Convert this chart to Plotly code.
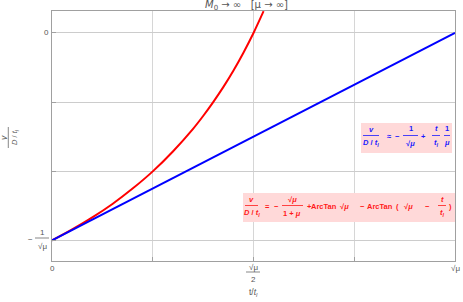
import plotly.graph_objects as go

# ---- data (normalized: t in units of sqrt(mu), v in units of 1/sqrt(mu)) ----
red_t = [0, 0.05, 0.1, 0.15, 0.2, 0.25, 0.3, 0.35, 0.375, 0.4, 0.425, 0.45, 0.475, 0.5, 0.525]
red_v = [-1, -0.947, -0.889, -0.824, -0.75, -0.667, -0.571, -0.462, -0.4, -0.333, -0.261, -0.182, -0.095, 0.0, 0.105]
blue_t = [0, 1]
blue_v = [-1, 0]
x_grid = [0.25, 0.5, 0.75]
y_grid = [0, -1/3, -2/3, -1]

W, H = 463, 302
L, R, T, B = 52, 455, 11, 261
FONT = "Liberation Sans"

def px(x):
    return (x - L) / (R - L)

def py(y):
    return (B - y) / (B - T)

fig = go.Figure()
fig.add_trace(go.Scatter(x=red_t, y=red_v, mode="lines", line=dict(color="#ff0000", width=2, shape="spline"),
                         hoverinfo="skip", showlegend=False))
fig.add_trace(go.Scatter(x=blue_t, y=blue_v, mode="lines", line=dict(color="#0000ff", width=2),
                         hoverinfo="skip", showlegend=False))

ann = []
shp = []

def txt(x, y, s, size=7.5, color="#444", bold=False, angle=0, anchor="center", family=FONT):
    if bold:
        s = "<b>" + s + "</b>"
    ann.append(dict(x=px(x), y=py(y), xref="paper", yref="paper", text=s, showarrow=False,
                    xanchor=anchor, yanchor="middle", textangle=angle, borderpad=0,
                    font=dict(family=family, size=size, color=color)))

def hbar(x0, x1, y, color, w=0.8):
    shp.append(dict(type="line", xref="paper", yref="paper", x0=px(x0), x1=px(x1), y0=py(y), y1=py(y),
                    line=dict(color=color, width=w), layer="above"))

def vbar(x, y0, y1, color, w=0.8):
    shp.append(dict(type="line", xref="paper", yref="paper", x0=px(x), x1=px(x), y0=py(y0), y1=py(y1),
                    line=dict(color=color, width=w), layer="above"))

def box(x0, x1, y0, y1):
    shp.append(dict(type="rect", xref="paper", yref="paper", x0=px(x0), x1=px(x1), y0=py(y1), y1=py(y0),
                    fillcolor="#ffd9d9", line=dict(width=0), layer="above"))

# title
txt(246, 6, "<i>M</i><sub>0</sub> → ∞   [μ → ∞]", size=10, color="#555", family="DejaVu Sans")

# y tick labels
txt(46, 33, "0", size=8, color="#555")
txt(30, 239.5, "−", size=8, color="#555")
txt(42, 232.5, "1", size=8, color="#555")
hbar(35, 49, 238, "#555", 0.7)
txt(42, 246.5, "√μ", size=8, color="#555")

# y axis title (rotated fraction)
txt(3.5, 137.5, "<i>v</i>", size=8.5, color="#555", angle=-90)
vbar(8.3, 127, 148, "#555", 0.7)
txt(14.5, 137.5, "<i>D</i> / <i>t</i><sub><i>l</i></sub>", size=7.5, color="#555", angle=-90)

# x tick labels
txt(52, 268, "0", size=8, color="#555")
txt(253, 267.5, "√μ", size=8, color="#555")
hbar(246, 260, 272, "#555", 0.7)
txt(253, 279, "2", size=8, color="#555")
txt(455, 268, "√μ", size=8, color="#555")
# x axis title
txt(254, 292, "t/<i>t</i><sub><i>l</i></sub>", size=8.5, color="#555")

# blue equation
BC = "#1a1aff"
box(361, 452, 123, 153)
txt(371, 129, "<i>v</i>", color=BC, bold=True)
hbar(363, 379, 135.5, BC)
txt(371, 142.5, "<i>D</i> / <i>t</i><sub><i>l</i></sub>", color=BC, bold=True)
txt(389, 136, "≈", color=BC, bold=True)
txt(397, 136, "−", color=BC, bold=True)
txt(410.5, 128.5, "1", color=BC, bold=True)
hbar(403, 418, 135.5, BC)
txt(410.5, 143, "√<i>μ</i>", color=BC, bold=True)
txt(423, 136, "+", color=BC, bold=True)
txt(436, 128.5, "<i>t</i>", color=BC, bold=True)
hbar(432, 440, 135.5, BC)
txt(436, 142.5, "<i>t</i><sub><i>l</i></sub>", color=BC, bold=True)
txt(447, 128.5, "1", color=BC, bold=True)
hbar(444, 450, 135.5, BC)
txt(447, 142.5, "<i>μ</i>", color=BC, bold=True)

# red equation
RC = "#ff1a1a"
box(243, 455, 193, 222)
txt(251.5, 199.5, "<i>v</i>", color=RC, bold=True)
hbar(245, 258, 205.5, RC)
txt(251.5, 213, "<i>D</i> / <i>t</i><sub><i>l</i></sub>", color=RC, bold=True)
txt(267, 206, "=", color=RC, bold=True)
txt(276, 206, "−", color=RC, bold=True)
txt(292, 199.5, "√<i>μ</i>", color=RC, bold=True)
hbar(282, 303, 205.5, RC)
txt(292, 213.5, "1 + <i>μ</i>", color=RC, bold=True)
txt(309, 206, "+", color=RC, bold=True)
txt(324, 206, "ArcTan", color=RC, bold=True)
txt(344, 206, "√<i>μ</i>", color=RC, bold=True)
txt(362, 206, "−", color=RC, bold=True)
txt(380, 206, "ArcTan", color=RC, bold=True)
txt(397, 206, "(", color=RC, bold=True)
txt(408, 206, "√<i>μ</i>", color=RC, bold=True)
txt(427, 206, "−", color=RC, bold=True)
txt(442, 199.5, "<i>t</i>", color=RC, bold=True)
hbar(438, 446, 205.5, RC)
txt(442, 213, "<i>t</i><sub><i>l</i></sub>", color=RC, bold=True)
txt(450, 206, ")", color=RC, bold=True)

fig.update_layout(
    width=W, height=H,
    margin=dict(l=L, r=W - R, t=T, b=H - B),
    paper_bgcolor="white", plot_bgcolor="white",
    annotations=ann, shapes=shp,
    showlegend=False,
    xaxis=dict(range=[0, 1], tickvals=x_grid, showticklabels=False, showgrid=True, gridcolor="#d6d6d6",
               gridwidth=1, zeroline=False, showline=True, mirror=True, linecolor="#a0a0a0", linewidth=1,
               ticks="inside", ticklen=4, tickcolor="#a0a0a0", fixedrange=True),
    yaxis=dict(range=[-1.099, 0.106], tickvals=y_grid, showticklabels=False, showgrid=True, gridcolor="#cccccc",
               gridwidth=1, zeroline=False, showline=True, mirror=True, linecolor="#a0a0a0", linewidth=1,
               ticks="inside", ticklen=4, tickcolor="#a0a0a0", fixedrange=True),
)

fig.write_html("out.html", config={"displayModeBar": False},
               post_script="document.body.style.margin='0';document.body.style.overflow='hidden';")
